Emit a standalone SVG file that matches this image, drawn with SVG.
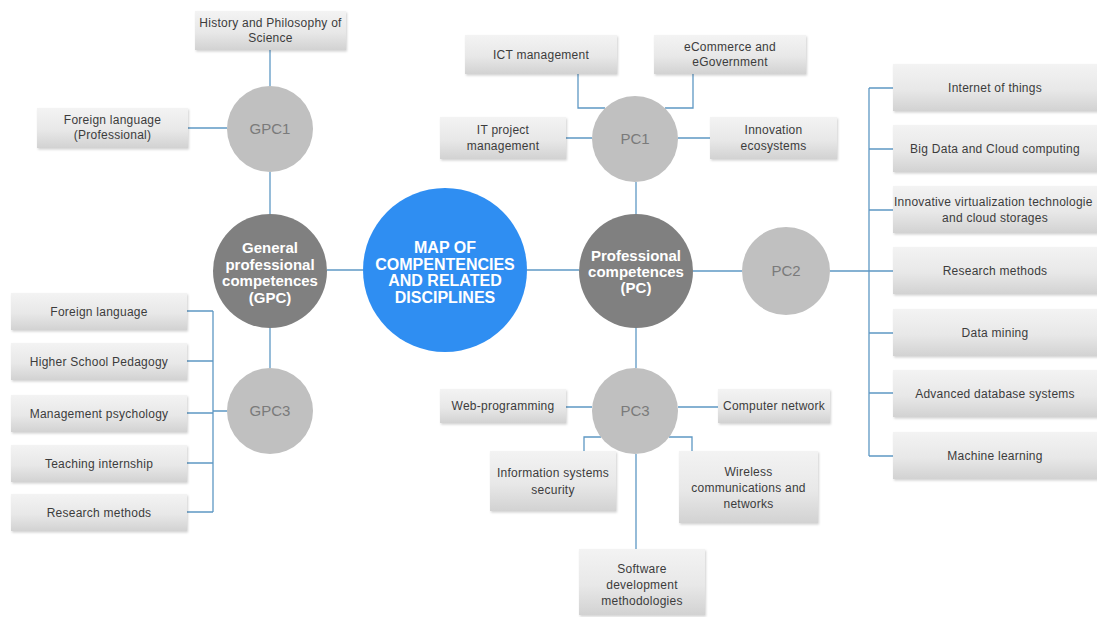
<svg xmlns="http://www.w3.org/2000/svg" width="1097" height="617" viewBox="0 0 1097 617">
<style>
.box{fill:url(#bg);filter:url(#sh)}
.bt{font-family:"Liberation Sans",Arial,sans-serif;font-size:12px;letter-spacing:0.25px;fill:#3c3c3c;text-anchor:middle}
.sc{fill:#c0c0c0}
.st{font-family:"Liberation Sans",Arial,sans-serif;font-size:15px;fill:#7a7a7a;text-anchor:middle}
.dc{fill:#808080}
.dt{font-family:"Liberation Sans",Arial,sans-serif;font-size:15px;font-weight:bold;fill:#ffffff;text-anchor:middle}
.bc{fill:#2f8ef2}
.ln{fill:none;stroke:#5e98c4;stroke-width:1.3}
</style>
<defs>
<linearGradient id="bg" x1="0" y1="0" x2="0" y2="1">
<stop offset="0" stop-color="#f3f3f3"/>
<stop offset="0.55" stop-color="#e8e8e8"/>
<stop offset="1" stop-color="#d2d2d2"/>
</linearGradient>
<filter id="sh" x="-5%" y="-10%" width="110%" height="130%">
<feDropShadow dx="1" dy="1.5" stdDeviation="1" flood-color="#000" flood-opacity="0.18"/>
</filter>
</defs>
<rect width="1097" height="617" fill="#ffffff"/>
<g id="connectors">
<path class="ln" d="M270 50V86"/>
<path class="ln" d="M188 128H227"/>
<path class="ln" d="M270 172V214"/>
<path class="ln" d="M270 328V368"/>
<path class="ln" d="M327 270H363"/>
<path class="ln" d="M213 311V512M187 311H213M187 361H213M187 413H213M187 463H213M187 512H213M213 411H227"/>
<path class="ln" d="M527 270H579"/>
<path class="ln" d="M636 182V214"/>
<path class="ln" d="M636 328V368"/>
<path class="ln" d="M693 271H742"/>
<path class="ln" d="M830 271H869M869 88V456M869 88H893M869 149H893M869 210H893M869 271H893M869 333H893M869 393H893M869 456H893"/>
<path class="ln" d="M578 74V108H605M693 74V108H665M566 138H592M678 138H710"/>
<path class="ln" d="M566 407H592M678 407H718M584 451V437H601M692 451V437H669M636 454V549"/>
</g>
<g id="hps"><rect class="box" x="195" y="11" width="151" height="39"/><text class="bt" x="270.5" y="27">History and Philosophy of</text><text class="bt" x="270.5" y="42">Science</text></g>
<g id="flp"><rect class="box" x="37" y="108" width="151" height="40"/><text class="bt" x="112.5" y="124">Foreign language</text><text class="bt" x="112.5" y="139">(Professional)</text></g>
<g id="gpc1"><circle class="sc" cx="270" cy="129" r="43"/><text class="st" x="270" y="134">GPC1</text></g>
<g id="gpc"><circle class="dc" cx="270" cy="271" r="57"/><text class="dt" x="270" y="253">General</text><text class="dt" x="270" y="269.5">professional</text><text class="dt" x="270" y="286">competences</text><text class="dt" x="270" y="302.5">(GPC)</text></g>
<g id="gpc3"><circle class="sc" cx="270" cy="411" r="43"/><text class="st" x="270" y="416">GPC3</text></g>
<g id="fl"><rect class="box" x="11" y="293" width="176" height="37"/><text class="bt" x="99" y="315.5">Foreign language</text></g>
<g id="hsp"><rect class="box" x="11" y="343" width="176" height="37"/><text class="bt" x="99" y="365.5">Higher School Pedagogy</text></g>
<g id="mp"><rect class="box" x="11" y="395" width="176" height="37"/><text class="bt" x="99" y="417.5">Management psychology</text></g>
<g id="ti"><rect class="box" x="11" y="445" width="176" height="37"/><text class="bt" x="99" y="467.5">Teaching internship</text></g>
<g id="rm1"><rect class="box" x="11" y="494" width="176" height="37"/><text class="bt" x="99" y="516.5">Research methods</text></g>
<g id="map"><circle class="bc" cx="445" cy="270" r="82"/><text class="dt" style="font-size:16px" x="445" y="253">MAP OF</text><text class="dt" style="font-size:16px" x="445" y="269.5">COMPENTENCIES</text><text class="dt" style="font-size:16px" x="445" y="286">AND RELATED</text><text class="dt" style="font-size:16px" x="445" y="302.5">DISCIPLINES</text></g>
<g id="pc"><circle class="dc" cx="636" cy="271" r="57"/><text class="dt" x="636" y="261">Professional</text><text class="dt" x="636" y="277">competences</text><text class="dt" x="636" y="293">(PC)</text></g>
<g id="pc1"><circle class="sc" cx="635" cy="139" r="43"/><text class="st" x="635" y="144">PC1</text></g>
<g id="ict"><rect class="box" x="465" y="35" width="152" height="39"/><text class="bt" x="541" y="58.5">ICT management</text></g>
<g id="ecom"><rect class="box" x="654" y="35" width="152" height="39"/><text class="bt" x="730" y="51">eCommerce and</text><text class="bt" x="730" y="66">eGovernment</text></g>
<g id="itpm"><rect class="box" x="440" y="117" width="126" height="42"/><text class="bt" x="503" y="134">IT project</text><text class="bt" x="503" y="150">management</text></g>
<g id="ie"><rect class="box" x="710" y="117" width="127" height="42"/><text class="bt" x="773.5" y="134">Innovation</text><text class="bt" x="773.5" y="150">ecosystems</text></g>
<g id="pc2"><circle class="sc" cx="786" cy="271" r="44"/><text class="st" x="786" y="276">PC2</text></g>
<g id="iot"><rect class="box" x="893" y="64" width="207" height="47"/><text class="bt" x="995" y="92">Internet of things</text></g>
<g id="bd"><rect class="box" x="893" y="125" width="207" height="47"/><text class="bt" x="995" y="153">Big Data and Cloud computing</text></g>
<g id="ivt"><rect class="box" x="893" y="186" width="207" height="47"/><text class="bt" style="text-anchor:start" x="894" y="206">Innovative virtualization technologie</text><text class="bt" x="995" y="222">and cloud storages</text></g>
<g id="rm2"><rect class="box" x="893" y="247" width="207" height="47"/><text class="bt" x="995" y="275">Research methods</text></g>
<g id="dm"><rect class="box" x="893" y="309" width="207" height="47"/><text class="bt" x="995" y="337">Data mining</text></g>
<g id="ads"><rect class="box" x="893" y="370" width="207" height="47"/><text class="bt" x="995" y="398">Advanced database systems</text></g>
<g id="ml"><rect class="box" x="893" y="432" width="207" height="47"/><text class="bt" x="995" y="460">Machine learning</text></g>
<g id="pc3"><circle class="sc" cx="635" cy="411" r="43"/><text class="st" x="635" y="416">PC3</text></g>
<g id="web"><rect class="box" x="440" y="389" width="126" height="34"/><text class="bt" x="503" y="410">Web-programming</text></g>
<g id="cn"><rect class="box" x="718" y="389" width="112" height="34"/><text class="bt" x="774" y="410">Computer network</text></g>
<g id="iss"><rect class="box" x="490" y="451" width="126" height="60"/><text class="bt" x="553" y="477">Information systems</text><text class="bt" x="553" y="494">security</text></g>
<g id="wcn"><rect class="box" x="679" y="451" width="139" height="72"/><text class="bt" x="748.5" y="476">Wireless</text><text class="bt" x="748.5" y="492">communications and</text><text class="bt" x="748.5" y="508">networks</text></g>
<g id="sdm"><rect class="box" x="579" y="549" width="126" height="66"/><text class="bt" x="642" y="573">Software</text><text class="bt" x="642" y="589">development</text><text class="bt" x="642" y="605">methodologies</text></g>
</svg>
